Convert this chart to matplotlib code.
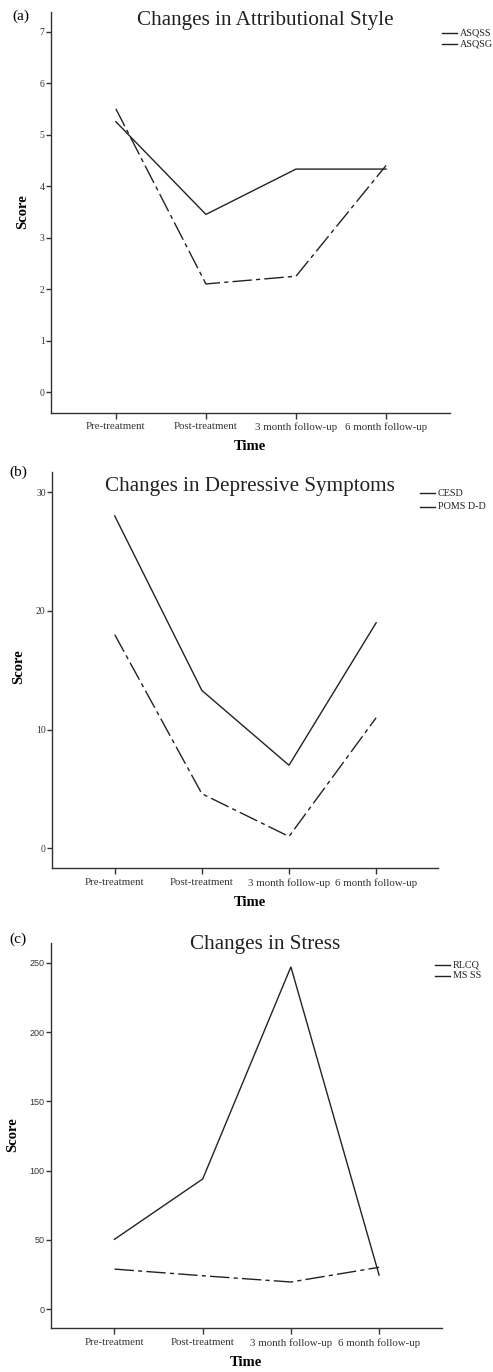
import matplotlib.pyplot as plt

plt.rcParams['font.family'] = ['Liberation Serif', 'DejaVu Serif']

W, H = 493, 1372

time_points = ["Pre-treatment", "Post-treatment", "3 month follow-up", "6 month follow-up"]

# (a) attributional style
asqss = [5.25, 3.45, 4.33, 4.33]
asqsg = [5.5, 2.1, 2.25, 4.4]
# (b) depressive symptoms
cesd = [28.0, 13.3, 7.0, 19.0]
poms_dd = [18.0, 4.6, 1.0, 11.0]
# (c) stress
rlcq = [50.5, 94, 247, 24.7]
ms_ss = [29, 24.2, 19.7, 30.3]

DASH = (0, (14, 3, 3, 3))
INK = '#222222'


def px(x, y):
    return x / W, 1 - y / H


fig = plt.figure(figsize=(W / 100, H / 100), dpi=100)
fig.patch.set_facecolor('white')

panels = [
    dict(tag="(a)", title="Changes in Attributional Style", names=["ASQSS", "ASQSG"],
         series=[asqss, asqsg], box=(51, 12, 450, 412.7), ylim=(-0.4, 7.38),
         yticks=[0, 1, 2, 3, 4, 5, 6, 7], tickfont='Liberation Serif',
         tag_xy=(21, 16), title_xy=(265, 21), leg=(442, 33, 11),
         score_xy=(23, 212), time_xy=(250, 446)),
    dict(tag="(b)", title="Changes in Depressive Symptoms", names=["CESD", "POMS D-D"],
         series=[cesd, poms_dd], box=(52, 472, 438, 868.3), ylim=(-1.68, 31.7),
         yticks=[0, 10, 20, 30], tickfont='Liberation Serif',
         tag_xy=(18, 472), title_xy=(250, 487), leg=(420, 493.3, 13.4),
         score_xy=(19, 667), time_xy=(250, 903)),
    dict(tag="(c)", title="Changes in Stress", names=["RLCQ", "MS SS"],
         series=[rlcq, ms_ss], box=(51, 943.3, 441.7, 1328.3), ylim=(-13.7, 264),
         yticks=[0, 50, 100, 150, 200, 250], tickfont='Liberation Sans',
         tag_xy=(18, 939), title_xy=(265, 945), leg=(435, 965, 11),
         score_xy=(13, 1135), time_xy=(246, 1362)),
]

for p in panels:
    x0, y0, x1, y1 = p['box']
    ax = fig.add_axes([x0 / W, 1 - y1 / H, (x1 - x0) / W, (y1 - y0) / H])
    xs = range(len(time_points))
    ax.plot(xs, p['series'][0], color=INK, lw=1.0, solid_joinstyle='miter')
    ax.plot(xs, p['series'][1], color=INK, lw=1.0, linestyle=DASH)
    ax.set_xlim(-0.72, 3.71)
    ax.set_ylim(*p['ylim'])
    ax.set_yticks(p['yticks'])
    ysize = 6.5 if p['tickfont'] == 'Liberation Sans' else 7
    ax.set_yticklabels([str(v) for v in p['yticks']], fontsize=ysize,
                       family=p['tickfont'], color='#333333')
    ax.set_xticks(list(xs))
    ax.set_xticklabels(time_points, fontsize=7.8, color='#333333')
    for s in ['top', 'right']:
        ax.spines[s].set_visible(False)
    for s in ['left', 'bottom']:
        ax.spines[s].set_color('#333333')
        ax.spines[s].set_linewidth(1.0)
    ax.tick_params(axis='y', length=3.5, width=1.0, pad=1, color='#333333')
    ax.tick_params(axis='x', length=4, width=1.0, pad=3, color='#333333')

    fig.text(*px(*p['tag_xy']), p['tag'], fontsize=11, ha='center', va='center')
    fig.text(*px(*p['title_xy']), p['title'], fontsize=15.2, ha='center', va='center',
             color='#222222')
    fig.text(*px(*p['score_xy']), "Score", fontsize=10.5, fontweight='bold',
             rotation=90, ha='center', va='center')
    fig.text(*px(*p['time_xy']), "Time", fontsize=10.5, fontweight='bold',
             ha='center', va='center')

    # legend: both entries drawn as short solid strokes
    lx, ly, dy = p['leg']
    for i, name in enumerate(p['names']):
        yy = ly + i * dy
        fig.add_artist(plt.Line2D([lx / W, (lx + 15) / W], [1 - yy / H, 1 - yy / H],
                                  color=INK, lw=1.0, transform=fig.transFigure))
        fig.text(*px(lx + 18, yy), name, fontsize=7.3, ha='left', va='center',
                 color='#222222')

fig.savefig("out.png", dpi=100)
